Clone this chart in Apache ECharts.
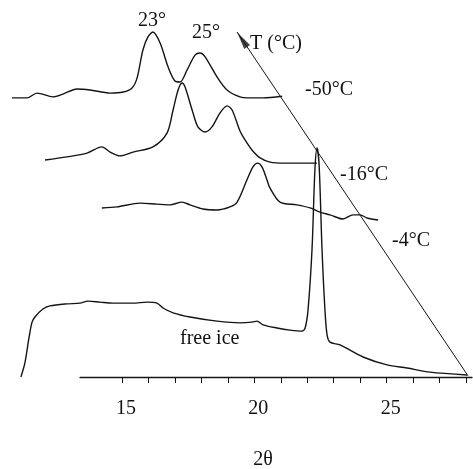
<!DOCTYPE html>
<html>
<head>
<meta charset="utf-8">
<script src="https://cdn.jsdelivr.net/npm/echarts@6/dist/echarts.min.js"></script>
<style>
  html, body { margin: 0; padding: 0; background: #fff; }
  #main { width: 473px; height: 469px; }
</style>
</head>
<body>
<div id="main"></div>
<script>
// 2θ (deg) and intensity (a.u.) of each stacked trace, offsets included
var iceX = [11.18, 11.33, 11.49, 11.60, 11.71, 12.01, 12.28, 12.92, 13.41, 13.72, 14.17, 14.66, 15.42, 15.94, 16.32, 16.55, 16.93, 17.57, 18.59, 19.46, 19.91, 20.10, 20.33, 20.86, 21.35, 21.80, 21.92, 22.03, 22.18, 22.29, 22.37, 22.45, 22.56, 22.67, 22.75, 22.86, 23.24, 24.11, 25.02, 25.77, 26.64, 28.04]
var iceY = [0, 4.1, 11.6, 15.9, 17.4, 19.7, 20.6, 21.2, 21.4, 22.0, 21.7, 21.4, 21.4, 21.7, 21.4, 20.0, 18.6, 17.4, 16.2, 15.7, 15.9, 16.2, 15.1, 14.2, 13.6, 13.3, 14.2, 19.4, 36.8, 60.0, 66.4, 61.4, 36.8, 19.4, 12.2, 10.1, 9.3, 5.8, 3.5, 2.6, 1.4, 0.6]

var m4X = [14.24, 14.81, 15.68, 16.32, 16.81, 17.27, 17.57, 18.06, 18.59, 19.08, 19.35, 19.72, 19.95, 20.12, 20.29, 20.48, 20.59, 20.97, 21.61, 22.11, 22.48, 22.86, 23.35, 23.73, 24.00, 24.26, 24.68]
var m4Y = [49.0, 49.3, 50.4, 50.1, 49.9, 50.7, 49.9, 48.7, 48.4, 49.3, 50.7, 57.1, 60.9, 62.0, 60.9, 57.1, 54.8, 50.7, 49.9, 49.0, 47.8, 47.0, 45.8, 47.0, 47.0, 46.1, 45.5]

var m16X = [12.09, 12.92, 13.68, 14.24, 14.55, 14.92, 15.42, 16.17, 16.70, 16.93, 17.12, 17.27, 17.38, 17.65, 17.87, 18.14, 18.40, 18.70, 18.97, 19.16, 19.46, 19.65, 19.91, 20.22, 20.59, 21.16, 22.37]
var m16Y = [62.9, 63.8, 64.9, 66.7, 65.2, 64.1, 65.2, 66.7, 70.7, 77.4, 83.2, 85.2, 84.1, 77.4, 72.5, 71.0, 72.5, 76.5, 78.6, 77.4, 71.3, 68.7, 65.8, 63.5, 62.3, 62.0, 62.0]

var m50X = [10.84, 11.41, 11.79, 12.39, 12.77, 13.30, 13.79, 14.55, 15.04, 15.38, 15.57, 15.79, 15.98, 16.17, 16.44, 16.74, 17.00, 17.19, 17.46, 17.76, 17.95, 18.14, 18.59, 18.97, 19.46, 19.84, 20.33, 21.05]
var m50Y = [80.9, 80.9, 82.3, 81.2, 82.0, 83.5, 83.2, 82.3, 82.6, 83.8, 86.7, 94.8, 98.6, 100.0, 96.8, 89.9, 85.8, 85.5, 89.0, 93.3, 93.9, 92.8, 87.0, 83.2, 81.2, 80.9, 80.9, 81.4]

// temperature axis drawn across the stack, arrow at its upper end
var tAxisX = [28.08, 19.35]
var tAxisY = [0.3, 100]
var tArrowX = [19.54]
var tArrowY = [97.8]

var xTicks = [15, 16, 17, 18, 19, 20, 21, 22, 23, 24, 25, 26, 27, 28]
var xLabels = [15, 20, 25]

function pairs (xs, ys) {
  return xs.map(function (x, i) { return [x, ys[i]] })
}

var serif = 'Liberation Serif'
var ink = '#141414'

function trace (xs, ys) {
  return {
    type: 'line',
    xAxisIndex: 0,
    yAxisIndex: 0,
    data: pairs(xs, ys),
    showSymbol: false,
    smooth: 0.3,
    lineStyle: { color: ink, width: 1.4 },
    silent: true
  }
}

function note (text, x, y, align) {
  return {
    type: 'text',
    x: x,
    y: y,
    style: { text: text, font: '20px "Liberation Serif"', fill: '#111', textAlign: align, textVerticalAlign: 'middle' }
  }
}

var myChart = echarts.init(document.getElementById('main'))

var option = {
  backgroundColor: '#fff',
  animation: false,
  grid: [
    { left: 0, right: 0, top: 0, bottom: 92 },
    { left: 80, right: 1, top: 0, bottom: 92 }
  ],
  xAxis: [
    { type: 'value', gridIndex: 0, min: 10.389, max: 28.265, show: false },
    {
      type: 'value',
      gridIndex: 1,
      min: 13.41,
      max: 28.227,
      splitLine: { show: false },
      axisLine: { lineStyle: { color: ink, width: 1.3 } },
      axisTick: { customValues: xTicks, length: 6, lineStyle: { color: ink, width: 1 } },
      axisLabel: {
        customValues: xLabels,
        margin: 22,
        color: '#111',
        fontFamily: serif,
        fontSize: 20,
        padding: [0, 0, 0, 8]
      }
    }
  ],
  yAxis: [
    { type: 'value', gridIndex: 0, min: 0, max: 109.28, show: false },
    { type: 'value', gridIndex: 1, min: 0, max: 109.28, show: false }
  ],
  series: [
    trace(iceX, iceY),
    trace(m4X, m4Y),
    trace(m16X, m16Y),
    trace(m50X, m50Y),
    {
      type: 'line',
      xAxisIndex: 0,
      yAxisIndex: 0,
      data: pairs(tAxisX, tAxisY),
      showSymbol: false,
      lineStyle: { color: ink, width: 1 },
      silent: true
    },
    {
      type: 'scatter',
      xAxisIndex: 0,
      yAxisIndex: 0,
      data: pairs(tArrowX, tArrowY),
      symbol: 'triangle',
      symbolSize: [7, 18],
      symbolRotate: 33.9,
      itemStyle: { color: ink },
      silent: true
    }
  ],
  graphic: [
    note('23°', 152, 21, 'center'),
    note('25°', 206, 33, 'center'),
    note('T (°C)', 250, 44, 'left'),
    note('-50°C', 305, 90, 'left'),
    note('-16°C', 340, 175, 'left'),
    note('-4°C', 392, 241, 'left'),
    note('free ice', 180, 339, 'left'),
    note('2θ', 263, 460, 'center')
  ]
}

myChart.setOption(option)
</script>
</body>
</html>
